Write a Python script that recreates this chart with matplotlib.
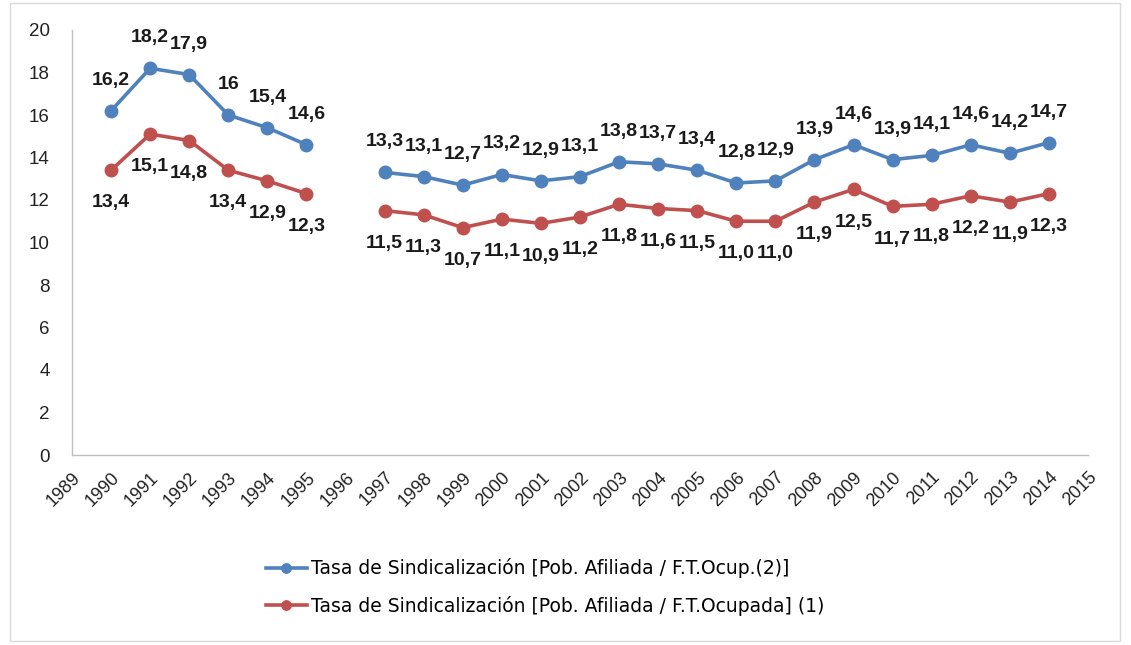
import numpy as np
import matplotlib
matplotlib.use("Agg")
import matplotlib.pyplot as plt
from matplotlib.patches import Rectangle

years = list(range(1990, 2015))
blue_vals = [16.2, 18.2, 17.9, 16.0, 15.4, 14.6, np.nan, 13.3, 13.1, 12.7, 13.2, 12.9, 13.1,
             13.8, 13.7, 13.4, 12.8, 12.9, 13.9, 14.6, 13.9, 14.1, 14.6, 14.2, 14.7]
red_vals = [13.4, 15.1, 14.8, 13.4, 12.9, 12.3, np.nan, 11.5, 11.3, 10.7, 11.1, 10.9, 11.2,
            11.8, 11.6, 11.5, 11.0, 11.0, 11.9, 12.5, 11.7, 11.8, 12.2, 11.9, 12.3]
blue_name = "Tasa de Sindicalización [Pob. Afiliada / F.T.Ocup.(2)]"
red_name = "Tasa de Sindicalización [Pob. Afiliada / F.T.Ocupada] (1)"
x_ticks = list(range(1989, 2016))
y_ticks = list(range(0, 21, 2))

BLUE = "#4F81BD"
RED = "#C0504D"
plt.rcParams['font.family'] = ['Liberation Sans', 'DejaVu Sans']

fig = plt.figure(figsize=(11.31, 6.45), dpi=100)
fig.patches.append(Rectangle((10/1131, 4/645), 1110/1131, 638/645, transform=fig.transFigure,
                             fill=False, edgecolor="#D9D9D9", lw=1))
ax = fig.add_axes([72/1131, 1-455/645, (1088-72)/1131, (455-30)/645])

lb, = ax.plot(years, blue_vals, color=BLUE, lw=2.6, marker='o', ms=9, label=blue_name)
lr, = ax.plot(years, red_vals, color=RED, lw=2.6, marker='o', ms=9, label=red_name)

for x, v in zip(years, blue_vals):
    if np.isnan(v):
        continue
    s = f"{v:g}".replace('.', ',')
    ax.annotate(s, (x, v), xytext=(0, 22), textcoords='offset points', ha='center', va='center',
                fontsize=14, fontweight='bold', color='#1a1a1a')
for x, v in zip(years, red_vals):
    if np.isnan(v):
        continue
    s = f"{v:.1f}".replace('.', ',')
    ax.annotate(s, (x, v), xytext=(0, -23.5), textcoords='offset points', ha='center', va='center',
                fontsize=14, fontweight='bold', color='#1a1a1a')

ax.set_xlim(1989, 2015)
ax.set_ylim(0, 20)
ax.set_xticks(x_ticks)
ax.set_xticklabels([str(t) for t in x_ticks], rotation=45, ha='right', rotation_mode='anchor',
                   fontsize=13)
ax.set_yticks(y_ticks)
ax.set_yticklabels([str(t) for t in y_ticks], fontsize=13.5)
ax.tick_params(axis='both', length=0, colors='#222222')
ax.tick_params(axis='y', pad=16)
ax.tick_params(axis='x', pad=10)
for s in ['top', 'right']:
    ax.spines[s].set_visible(False)
for s in ['left', 'bottom']:
    ax.spines[s].set_color('#BFBFBF')
    ax.spines[s].set_linewidth(1)

fig.legend(handles=[lb, lr], loc='center', bbox_to_anchor=(545/1131, 1-587/645), frameon=False,
           prop={'family': 'DejaVu Sans', 'size': 13.5}, handlelength=2.2, labelspacing=0.95,
           markerscale=0.75, handletextpad=0.2)

fig.savefig("out.png", dpi=100)
